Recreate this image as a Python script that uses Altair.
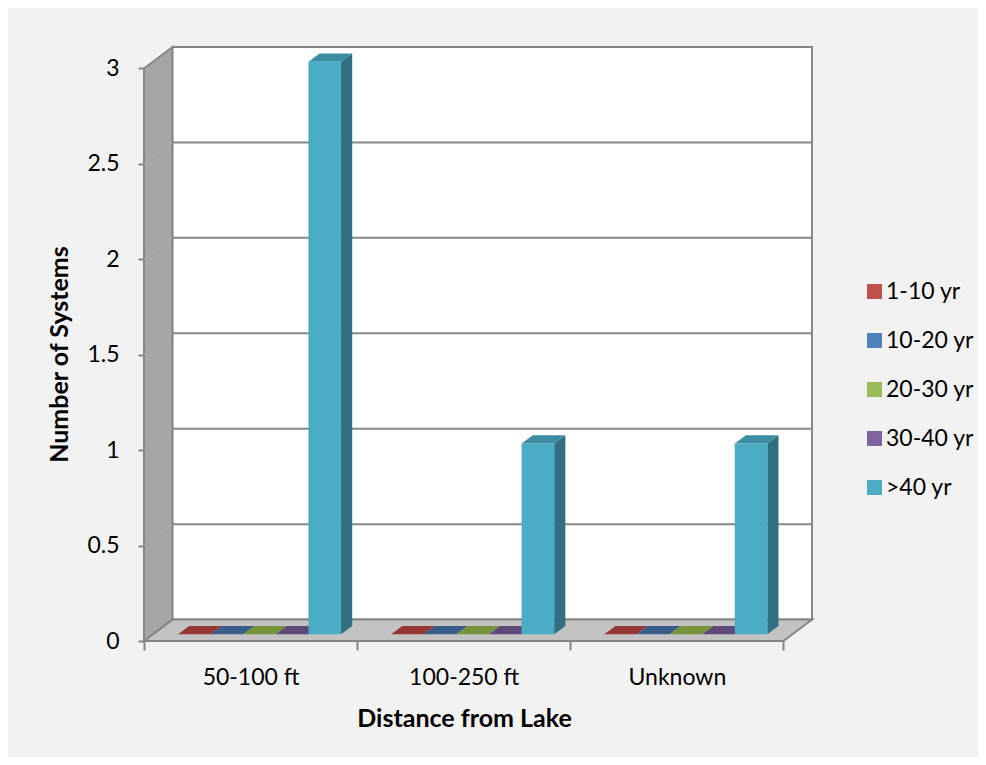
import altair as alt
import pandas as pd

# ---------------- data ----------------
categories = ["50-100 ft", "100-250 ft", "Unknown"]
series = ["1-10 yr", "10-20 yr", "20-30 yr", "30-40 yr", ">40 yr"]
s_1_10 = [0, 0, 0]
s_10_20 = [0, 0, 0]
s_20_30 = [0, 0, 0]
s_30_40 = [0, 0, 0]
s_40_plus = [3, 1, 1]
values = [s_1_10, s_10_20, s_20_30, s_30_40, s_40_plus]
y_ticks = [0, 0.5, 1, 1.5, 2, 2.5, 3]

front_colors = ["#c0504d", "#4f81bd", "#9bbb59", "#8064a2", "#4bacc6"]
top_colors = ["#953735", "#385d8a", "#77933c", "#5f497a", "#3c8da3"]
side_colors = ["#7f2c2a", "#2c4d74", "#5f7630", "#4c3a62", "#306f80"]

# ---------------- 3D geometry (style) ----------------
NCAT = len(categories)
YMAX = max(y_ticks)
DX = 0.134   # depth offset in category units
DY = 0.112   # depth offset in value units
SLOT0 = 0.118
SLOT_W = 0.153
D0, D1 = 0.31, 0.70
XDOM = [0, NCAT + DX]
YDOM = [0, YMAX + DY]
FONT = "Lato"
GRID = "#878787"

xs = alt.Scale(domain=XDOM, nice=False, zero=False)
ys = alt.Scale(domain=YDOM, nice=False, zero=False)

front_rows, top_rows, side_rows = [], [], []
for i, cat in enumerate(categories):
    for k, s in enumerate(series):
        v = values[k][i]
        x0 = i + SLOT0 + k * SLOT_W
        x1 = x0 + SLOT_W
        front_rows.append({"series": s, "x": x0 + D0 * DX, "x2": x1 + D0 * DX,
                           "y": D0 * DY, "y2": v + D0 * DY})
        fid = f"{i}-{k}"
        for d in (D0, D1):
            top_rows.append({"id": fid, "y": v + d * DY, "xl": x0 + d * DX,
                             "xr": x1 + d * DX, "c": top_colors[k]})
            if v > 0:
                side_rows.append({"id": fid, "x": x1 + d * DX, "ylo": d * DY,
                                  "yhi": v + d * DY, "c": side_colors[k]})

front_df = pd.DataFrame(front_rows)
top_df = pd.DataFrame(top_rows)
side_df = pd.DataFrame(side_rows)

left_wall_df = pd.DataFrame({"x": [0, DX], "lo": [0, DY], "hi": [YMAX, YMAX + DY]})
back_wall_df = pd.DataFrame({"x": [DX], "x2": [NCAT + DX], "y": [DY], "y2": [YMAX + DY]})
floor_df = pd.DataFrame({"y": [0, DY], "xl": [0, DX], "xr": [NCAT, NCAT + DX]})
inner = y_ticks[1:-1]
grid_df = pd.DataFrame({"x": [DX] * len(inner), "x2": [NCAT + DX] * len(inner),
                        "y": [t + DY for t in inner]})
slant_df = pd.DataFrame({"x": [0] * len(inner), "x2": [DX] * len(inner),
                         "y": inner, "y2": [t + DY for t in inner]})

label_expr = "".join(
    f"datum.value == {i + 0.5} ? '{c}' : " for i, c in enumerate(categories)
) + "''"

x_axis = alt.Axis(
    values=[v / 2 for v in range(0, 2 * NCAT + 1)],
    labelExpr=label_expr, labelOverlap=False, labelBound=False, labelFlush=False,
    domain=False, grid=False, tickSize=9, tickWidth=2,
    tickColor={"condition": {"test": "datum.value % 1 !== 0", "value": "transparent"},
               "value": GRID},
    labelFont=FONT, labelFontSize=23, labelColor="#000000",
    labelBaseline="alphabetic", labelPadding=34,
    title="Distance from Lake", titleFont=FONT, titleFontSize=25,
    titleFontWeight="bold", titleColor="#000000",
    titleX=320, titleY=85, titleBaseline="alphabetic", titleAlign="center",
)
y_axis = alt.Axis(
    values=y_ticks, format="~g", domain=False, grid=False, tickSize=6, tickWidth=2,
    tickColor=GRID, labelFont=FONT, labelFontSize=23, labelColor="#000000",
    labelPadding=19,
    title="Number of Systems", titleFont=FONT, titleFontSize=25,
    titleFontWeight="bold", titleColor="#000000",
    titleX=-72, titleY=307, titleAlign="center", titleBaseline="bottom", titleAngle=-90,
)

left_wall = alt.Chart(left_wall_df).mark_area(
    fill="#a6a6a6", stroke=GRID, strokeWidth=2
).encode(
    x=alt.X("x:Q", scale=xs, axis=x_axis),
    y=alt.Y("lo:Q", scale=ys, axis=y_axis),
    y2="hi:Q",
)

back_wall = alt.Chart(back_wall_df).mark_rect(
    fill="#ffffff", stroke=GRID, strokeWidth=2
).encode(
    x=alt.X("x:Q", scale=xs, axis=x_axis), x2="x2:Q",
    y=alt.Y("y:Q", scale=ys, axis=y_axis), y2="y2:Q",
)

grid = alt.Chart(grid_df).mark_rule(color=GRID, strokeWidth=2).encode(
    x=alt.X("x:Q", scale=xs, axis=x_axis), x2="x2:Q",
    y=alt.Y("y:Q", scale=ys, axis=y_axis),
)

slant = alt.Chart(slant_df).mark_rule(color="#9fb2c0", strokeWidth=1.2,
                                      strokeDash=[2, 1]).encode(
    x=alt.X("x:Q", scale=xs, axis=x_axis), x2="x2:Q",
    y=alt.Y("y:Q", scale=ys, axis=y_axis), y2="y2:Q",
)

floor = alt.Chart(floor_df).mark_area(
    orient="horizontal", fill="#c3c3c3", stroke=GRID, strokeWidth=2
).encode(
    y=alt.Y("y:Q", scale=ys, axis=y_axis),
    x=alt.X("xl:Q", scale=xs, axis=x_axis), x2="xr:Q",
)

sides = alt.Chart(side_df).mark_area().encode(
    x=alt.X("x:Q", scale=xs, axis=x_axis),
    y=alt.Y("ylo:Q", scale=ys, axis=y_axis), y2="yhi:Q",
    detail="id:N",
    color=alt.Color("c:N", scale=None),
)

tops = alt.Chart(top_df).mark_area(orient="horizontal").encode(
    y=alt.Y("y:Q", scale=ys, axis=y_axis),
    x=alt.X("xl:Q", scale=xs, axis=x_axis), x2="xr:Q",
    detail="id:N",
    color=alt.Color("c:N", scale=None),
)

fronts = alt.Chart(front_df).mark_rect().encode(
    x=alt.X("x:Q", scale=xs, axis=x_axis), x2="x2:Q",
    y=alt.Y("y:Q", scale=ys, axis=y_axis), y2="y2:Q",
    color=alt.Color(
        "series:N",
        scale=alt.Scale(domain=series, range=front_colors),
        sort=series,
        legend=alt.Legend(
            title=None, orient="none", legendX=719, legendY=233,
            symbolType="square", symbolSize=225, symbolStrokeWidth=0,
            labelFont=FONT, labelFontSize=23, labelColor="#000000",
            labelOffset=0, rowPadding=25, padding=0,
        ),
    ),
)

chart = alt.layer(
    left_wall, back_wall, grid, slant, floor, sides, tops, fronts
).properties(
    width=668, height=594,
    background="#f2f2f2",
    autosize=alt.AutoSizeParams(type="none"),
    padding={"left": 136, "top": 39, "right": 166, "bottom": 116},
).configure_view(strokeWidth=0)

chart.save("out.html", embed_options={"renderer": "svg", "actions": False})
